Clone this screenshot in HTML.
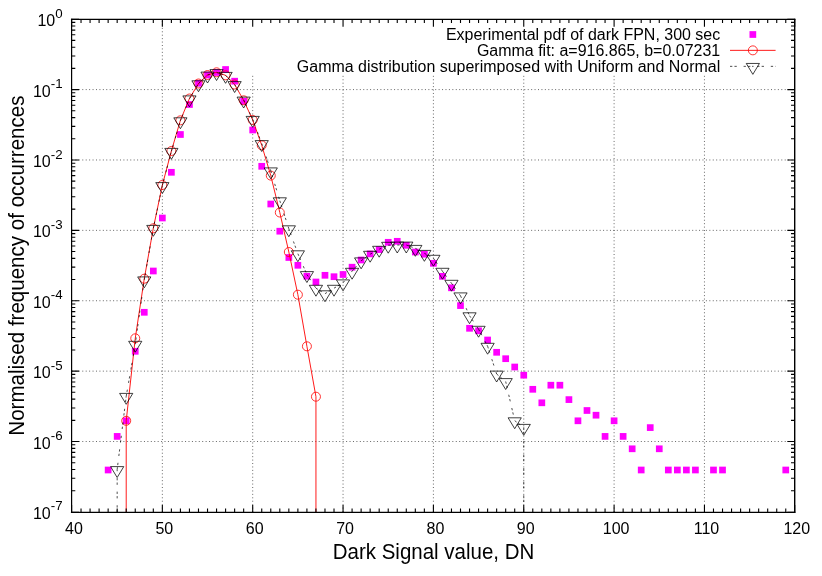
<!DOCTYPE html>
<html><head><meta charset="utf-8"><title>Dark signal FPN</title>
<style>html,body{margin:0;padding:0;background:#fff;overflow:hidden}svg{display:block;will-change:transform}text{font-family:"Liberation Sans",sans-serif;fill:#000}</style></head>
<body>
<svg width="822" height="576" viewBox="0 0 822 576">
<rect width="822" height="576" fill="#fff"/>
<path d="M162.35 512V19.35 M252.7 512V75.3 M343.05 512V75.3 M433.4 512V75.3 M523.75 512V75.3 M614.1 512V75.3 M704.45 512V75.3" stroke="#000" stroke-width="0.6" stroke-dasharray="1 2.4265" fill="none"/>
<path d="M72 89.59H794.7 M72 159.97H794.7 M72 230.36H794.7 M72 300.74H794.7 M72 371.13H794.7 M72 441.51H794.7" stroke="#000" stroke-width="0.6" stroke-dasharray="1 2.4265" fill="none"/>
<g fill="#f0f"><rect x="104.79" y="466.65" width="6.7" height="6.7"/><rect x="113.83" y="433.05" width="6.7" height="6.7"/><rect x="122.86" y="417.45" width="6.7" height="6.7"/><rect x="131.9" y="347.95" width="6.7" height="6.7"/><rect x="140.93" y="308.95" width="6.7" height="6.7"/><rect x="149.97" y="267.65" width="6.7" height="6.7"/><rect x="159" y="214.65" width="6.7" height="6.7"/><rect x="168.03" y="168.95" width="6.7" height="6.7"/><rect x="177.07" y="131.15" width="6.7" height="6.7"/><rect x="186.1" y="101.15" width="6.7" height="6.7"/><rect x="195.14" y="79.95" width="6.7" height="6.7"/><rect x="204.18" y="71.65" width="6.7" height="6.7"/><rect x="213.21" y="69.15" width="6.7" height="6.7"/><rect x="222.24" y="66.15" width="6.7" height="6.7"/><rect x="231.28" y="77.85" width="6.7" height="6.7"/><rect x="240.31" y="97.95" width="6.7" height="6.7"/><rect x="249.35" y="126.65" width="6.7" height="6.7"/><rect x="258.38" y="162.95" width="6.7" height="6.7"/><rect x="267.42" y="200.65" width="6.7" height="6.7"/><rect x="276.45" y="227.85" width="6.7" height="6.7"/><rect x="285.49" y="254.15" width="6.7" height="6.7"/><rect x="294.52" y="261.95" width="6.7" height="6.7"/><rect x="303.56" y="272.85" width="6.7" height="6.7"/><rect x="312.59" y="278.65" width="6.7" height="6.7"/><rect x="321.63" y="271.95" width="6.7" height="6.7"/><rect x="330.66" y="273.35" width="6.7" height="6.7"/><rect x="339.7" y="271.15" width="6.7" height="6.7"/><rect x="348.73" y="263.85" width="6.7" height="6.7"/><rect x="357.77" y="256.65" width="6.7" height="6.7"/><rect x="366.8" y="250.55" width="6.7" height="6.7"/><rect x="375.84" y="246.25" width="6.7" height="6.7"/><rect x="384.88" y="238.95" width="6.7" height="6.7"/><rect x="393.91" y="237.95" width="6.7" height="6.7"/><rect x="402.94" y="241.95" width="6.7" height="6.7"/><rect x="411.98" y="248.65" width="6.7" height="6.7"/><rect x="421.01" y="250.85" width="6.7" height="6.7"/><rect x="430.05" y="259.95" width="6.7" height="6.7"/><rect x="439.08" y="272.95" width="6.7" height="6.7"/><rect x="448.12" y="284.45" width="6.7" height="6.7"/><rect x="457.15" y="302.25" width="6.7" height="6.7"/><rect x="466.19" y="324.95" width="6.7" height="6.7"/><rect x="475.22" y="327.45" width="6.7" height="6.7"/><rect x="484.26" y="336.65" width="6.7" height="6.7"/><rect x="493.29" y="348.95" width="6.7" height="6.7"/><rect x="502.33" y="355.35" width="6.7" height="6.7"/><rect x="511.36" y="363.65" width="6.7" height="6.7"/><rect x="520.4" y="371.85" width="6.7" height="6.7"/><rect x="529.43" y="385.95" width="6.7" height="6.7"/><rect x="538.47" y="399.45" width="6.7" height="6.7"/><rect x="547.5" y="381.85" width="6.7" height="6.7"/><rect x="556.54" y="381.85" width="6.7" height="6.7"/><rect x="565.57" y="396.25" width="6.7" height="6.7"/><rect x="574.61" y="417.45" width="6.7" height="6.7"/><rect x="583.64" y="407.15" width="6.7" height="6.7"/><rect x="592.68" y="411.85" width="6.7" height="6.7"/><rect x="601.71" y="433.05" width="6.7" height="6.7"/><rect x="610.75" y="417.45" width="6.7" height="6.7"/><rect x="619.78" y="433.05" width="6.7" height="6.7"/><rect x="628.82" y="445.45" width="6.7" height="6.7"/><rect x="637.85" y="466.65" width="6.7" height="6.7"/><rect x="646.89" y="424.25" width="6.7" height="6.7"/><rect x="655.92" y="445.45" width="6.7" height="6.7"/><rect x="664.96" y="466.65" width="6.7" height="6.7"/><rect x="674" y="466.65" width="6.7" height="6.7"/><rect x="683.03" y="466.65" width="6.7" height="6.7"/><rect x="692.06" y="466.65" width="6.7" height="6.7"/><rect x="710.13" y="466.65" width="6.7" height="6.7"/><rect x="719.17" y="466.65" width="6.7" height="6.7"/><rect x="782.41" y="466.65" width="6.7" height="6.7"/></g>
<path d="M126.21 512.3L126.21 420.8L135.25 338.3L144.28 278.7L153.31 228.3L162.35 185L171.38 151L180.42 120.3L189.45 98.5L198.49 83.5L207.53 75L216.56 72.3L225.59 75.3L234.63 84.5L243.66 100.3L252.7 120L261.74 145.3L270.77 175.6L279.8 212.5L288.84 252L297.88 294.7L306.91 346.3L315.94 396.7L315.94 512.3" stroke="#f00" stroke-width="0.9" fill="none" stroke-linejoin="round"/>
<g stroke="#f00" stroke-width="0.8" fill="none"><circle cx="126.21" cy="420.8" r="4.5"/><circle cx="135.25" cy="338.3" r="4.5"/><circle cx="144.28" cy="278.7" r="4.5"/><circle cx="153.31" cy="228.3" r="4.5"/><circle cx="162.35" cy="185" r="4.5"/><circle cx="171.38" cy="151" r="4.5"/><circle cx="180.42" cy="120.3" r="4.5"/><circle cx="189.45" cy="98.5" r="4.5"/><circle cx="198.49" cy="83.5" r="4.5"/><circle cx="207.53" cy="75" r="4.5"/><circle cx="216.56" cy="72.3" r="4.5"/><circle cx="225.59" cy="75.3" r="4.5"/><circle cx="234.63" cy="84.5" r="4.5"/><circle cx="243.66" cy="100.3" r="4.5"/><circle cx="252.7" cy="120" r="4.5"/><circle cx="261.74" cy="145.3" r="4.5"/><circle cx="270.77" cy="175.6" r="4.5"/><circle cx="279.8" cy="212.5" r="4.5"/><circle cx="288.84" cy="252" r="4.5"/><circle cx="297.88" cy="294.7" r="4.5"/><circle cx="306.91" cy="346.3" r="4.5"/><circle cx="315.94" cy="396.7" r="4.5"/></g>
<path d="M117.17 512L117.17 469.5M117.17 469.5L126.21 396.3M126.21 396.3L135.25 344.2M135.25 344.2L144.28 279.8M144.28 279.8L153.31 228.3M153.31 228.3L162.35 185.5M162.35 185.5L171.38 151.3M171.38 151.3L180.42 120.7M180.42 120.7L189.45 98.8M189.45 98.8L198.49 83.7M198.49 83.7L207.53 75M207.53 75L216.56 72.5M216.56 72.5L225.59 75.3M225.59 75.3L234.63 84.5M234.63 84.5L243.66 100M243.66 100L252.7 119.3M252.7 119.3L261.74 143.5M261.74 143.5L270.77 170.8M270.77 170.8L279.8 200.7M279.8 200.7L288.84 228.7M288.84 228.7L297.88 253.7M297.88 253.7L306.91 274.5M306.91 274.5L315.94 288.2M315.94 288.2L324.98 293.7M324.98 293.7L334.01 288.2M334.01 288.2L343.05 282.8M343.05 282.8L352.08 271.2M352.08 271.2L361.12 260.8M361.12 260.8L370.15 254.2M370.15 254.2L379.19 249.2M379.19 249.2L388.23 245.2M388.23 245.2L397.26 245M397.26 245L406.29 245M406.29 245L415.33 248.3M415.33 248.3L424.36 253.3M424.36 253.3L433.4 258.2M433.4 258.2L442.44 271.2M442.44 271.2L451.47 283.2M451.47 283.2L460.5 295.8M460.5 295.8L469.54 315.7M469.54 315.7L478.57 329.2M478.57 329.2L487.61 346.2M487.61 346.2L496.64 374M496.64 374L505.68 381.5M505.68 381.5L514.71 420.7M514.71 420.7L523.75 427.3M523.75 427.3L523.75 512" stroke="#000" stroke-width="0.7" fill="none" stroke-dasharray="2.3 2.15 2.3 6.85"/>
<path d="M110.58 466.6H123.77L117.17 477.5ZM119.61 393.4H132.81L126.21 404.3ZM128.65 341.3H141.84L135.25 352.2ZM137.68 276.9H150.88L144.28 287.8ZM146.72 225.4H159.91L153.31 236.3ZM155.75 182.6H168.95L162.35 193.5ZM164.78 148.4H177.98L171.38 159.3ZM173.82 117.8H187.02L180.42 128.7ZM182.85 95.9H196.05L189.45 106.8ZM191.89 80.8H205.09L198.49 91.7ZM200.93 72.1H214.12L207.53 83ZM209.96 69.6H223.16L216.56 80.5ZM218.99 72.4H232.19L225.59 83.3ZM228.03 81.6H241.23L234.63 92.5ZM237.06 97.1H250.26L243.66 108ZM246.1 116.4H259.3L252.7 127.3ZM255.14 140.6H268.34L261.74 151.5ZM264.17 167.9H277.37L270.77 178.8ZM273.2 197.8H286.4L279.8 208.7ZM282.24 225.8H295.44L288.84 236.7ZM291.27 250.8H304.48L297.88 261.7ZM300.31 271.6H313.51L306.91 282.5ZM309.34 285.3H322.55L315.94 296.2ZM318.38 290.8H331.58L324.98 301.7ZM327.41 285.3H340.62L334.01 296.2ZM336.45 279.9H349.65L343.05 290.8ZM345.48 268.3H358.69L352.08 279.2ZM354.52 257.9H367.72L361.12 268.8ZM363.55 251.3H376.75L370.15 262.2ZM372.59 246.3H385.79L379.19 257.2ZM381.62 242.3H394.83L388.23 253.2ZM390.66 242.1H403.86L397.26 253ZM399.69 242.1H412.89L406.29 253ZM408.73 245.4H421.93L415.33 256.3ZM417.76 250.4H430.96L424.36 261.3ZM426.8 255.3H440L433.4 266.2ZM435.83 268.3H449.04L442.44 279.2ZM444.87 280.3H458.07L451.47 291.2ZM453.9 292.9H467.11L460.5 303.8ZM462.94 312.8H476.14L469.54 323.7ZM471.97 326.3H485.17L478.57 337.2ZM481.01 343.3H494.21L487.61 354.2ZM490.04 371.1H503.25L496.64 382ZM499.08 378.6H512.28L505.68 389.5ZM508.11 417.8H521.31L514.71 428.7ZM517.15 424.4H530.35L523.75 435.3Z" stroke="#000" stroke-width="0.75" fill="none"/>
<text x="720.2" y="39.7" font-size="15.97" text-anchor="end">Experimental pdf of dark FPN, 300 sec</text>
<text x="720.2" y="55.55" font-size="15.97" text-anchor="end">Gamma fit: a=916.865, b=0.07231</text>
<text x="720.2" y="71.75" font-size="15.97" text-anchor="end">Gamma distribution superimposed with Uniform and Normal</text>
<rect x="749.5" y="31.15" width="6.7" height="6.7" fill="#f0f"/>
<path d="M730.0 50.35H775.6" stroke="#f00" stroke-width="0.9"/><circle cx="752.85" cy="50.35" r="4.5" stroke="#f00" stroke-width="0.8" fill="none"/>
<path d="M730.0 66.35H775.6" stroke="#000" stroke-width="0.7" stroke-dasharray="2.3 2.15 2.3 6.85"/><path d="M746.25 63.45H759.45L752.85 74.35Z" stroke="#000" stroke-width="0.75" fill="none"/><rect x="752.35" y="65.85" width="1" height="1"/>
<path d="M71.6 512.3v-7.4M71.6 19.35v7.4 M81.03 512.3v-3.7M81.03 19.35v3.7 M90.07 512.3v-3.7M90.07 19.35v3.7 M99.1 512.3v-3.7M99.1 19.35v3.7 M108.14 512.3v-3.7M108.14 19.35v3.7 M117.17 512.3v-3.7M117.17 19.35v3.7 M126.21 512.3v-3.7M126.21 19.35v3.7 M135.25 512.3v-3.7M135.25 19.35v3.7 M144.28 512.3v-3.7M144.28 19.35v3.7 M153.31 512.3v-3.7M153.31 19.35v3.7 M162.35 512.3v-7.4M162.35 19.35v7.4 M171.38 512.3v-3.7M171.38 19.35v3.7 M180.42 512.3v-3.7M180.42 19.35v3.7 M189.45 512.3v-3.7M189.45 19.35v3.7 M198.49 512.3v-3.7M198.49 19.35v3.7 M207.53 512.3v-3.7M207.53 19.35v3.7 M216.56 512.3v-3.7M216.56 19.35v3.7 M225.59 512.3v-3.7M225.59 19.35v3.7 M234.63 512.3v-3.7M234.63 19.35v3.7 M243.66 512.3v-3.7M243.66 19.35v3.7 M252.7 512.3v-7.4M252.7 19.35v7.4 M261.74 512.3v-3.7M261.74 19.35v3.7 M270.77 512.3v-3.7M270.77 19.35v3.7 M279.8 512.3v-3.7M279.8 19.35v3.7 M288.84 512.3v-3.7M288.84 19.35v3.7 M297.88 512.3v-3.7M297.88 19.35v3.7 M306.91 512.3v-3.7M306.91 19.35v3.7 M315.94 512.3v-3.7M315.94 19.35v3.7 M324.98 512.3v-3.7M324.98 19.35v3.7 M334.01 512.3v-3.7M334.01 19.35v3.7 M343.05 512.3v-7.4M343.05 19.35v7.4 M352.08 512.3v-3.7M352.08 19.35v3.7 M361.12 512.3v-3.7M361.12 19.35v3.7 M370.15 512.3v-3.7M370.15 19.35v3.7 M379.19 512.3v-3.7M379.19 19.35v3.7 M388.23 512.3v-3.7M388.23 19.35v3.7 M397.26 512.3v-3.7M397.26 19.35v3.7 M406.29 512.3v-3.7M406.29 19.35v3.7 M415.33 512.3v-3.7M415.33 19.35v3.7 M424.36 512.3v-3.7M424.36 19.35v3.7 M433.4 512.3v-7.4M433.4 19.35v7.4 M442.44 512.3v-3.7M442.44 19.35v3.7 M451.47 512.3v-3.7M451.47 19.35v3.7 M460.5 512.3v-3.7M460.5 19.35v3.7 M469.54 512.3v-3.7M469.54 19.35v3.7 M478.57 512.3v-3.7M478.57 19.35v3.7 M487.61 512.3v-3.7M487.61 19.35v3.7 M496.64 512.3v-3.7M496.64 19.35v3.7 M505.68 512.3v-3.7M505.68 19.35v3.7 M514.71 512.3v-3.7M514.71 19.35v3.7 M523.75 512.3v-7.4M523.75 19.35v7.4 M532.78 512.3v-3.7M532.78 19.35v3.7 M541.82 512.3v-3.7M541.82 19.35v3.7 M550.85 512.3v-3.7M550.85 19.35v3.7 M559.89 512.3v-3.7M559.89 19.35v3.7 M568.92 512.3v-3.7M568.92 19.35v3.7 M577.96 512.3v-3.7M577.96 19.35v3.7 M587 512.3v-3.7M587 19.35v3.7 M596.03 512.3v-3.7M596.03 19.35v3.7 M605.06 512.3v-3.7M605.06 19.35v3.7 M614.1 512.3v-7.4M614.1 19.35v7.4 M623.13 512.3v-3.7M623.13 19.35v3.7 M632.17 512.3v-3.7M632.17 19.35v3.7 M641.2 512.3v-3.7M641.2 19.35v3.7 M650.24 512.3v-3.7M650.24 19.35v3.7 M659.27 512.3v-3.7M659.27 19.35v3.7 M668.31 512.3v-3.7M668.31 19.35v3.7 M677.35 512.3v-3.7M677.35 19.35v3.7 M686.38 512.3v-3.7M686.38 19.35v3.7 M695.41 512.3v-3.7M695.41 19.35v3.7 M704.45 512.3v-7.4M704.45 19.35v7.4 M713.48 512.3v-3.7M713.48 19.35v3.7 M722.52 512.3v-3.7M722.52 19.35v3.7 M731.55 512.3v-3.7M731.55 19.35v3.7 M740.59 512.3v-3.7M740.59 19.35v3.7 M749.62 512.3v-3.7M749.62 19.35v3.7 M758.66 512.3v-3.7M758.66 19.35v3.7 M767.69 512.3v-3.7M767.69 19.35v3.7 M776.73 512.3v-3.7M776.73 19.35v3.7 M785.76 512.3v-3.7M785.76 19.35v3.7 M794.7 512.3v-7.4M794.7 19.35v7.4 M71.6 19.35h7.4M794.7 19.35h-7.4 M71.6 68.4h3.7M794.7 68.4h-3.7 M71.6 56h3.7M794.7 56h-3.7 M71.6 47.21h3.7M794.7 47.21h-3.7 M71.6 40.39h3.7M794.7 40.39h-3.7 M71.6 34.81h3.7M794.7 34.81h-3.7 M71.6 30.1h3.7M794.7 30.1h-3.7 M71.6 26.02h3.7M794.7 26.02h-3.7 M71.6 22.42h3.7M794.7 22.42h-3.7 M71.6 89.59h7.4M794.7 89.59h-7.4 M71.6 138.78h3.7M794.7 138.78h-3.7 M71.6 126.39h3.7M794.7 126.39h-3.7 M71.6 117.6h3.7M794.7 117.6h-3.7 M71.6 110.77h3.7M794.7 110.77h-3.7 M71.6 105.2h3.7M794.7 105.2h-3.7 M71.6 100.49h3.7M794.7 100.49h-3.7 M71.6 96.41h3.7M794.7 96.41h-3.7 M71.6 92.81h3.7M794.7 92.81h-3.7 M71.6 159.97h7.4M794.7 159.97h-7.4 M71.6 209.17h3.7M794.7 209.17h-3.7 M71.6 196.77h3.7M794.7 196.77h-3.7 M71.6 187.98h3.7M794.7 187.98h-3.7 M71.6 181.16h3.7M794.7 181.16h-3.7 M71.6 175.59h3.7M794.7 175.59h-3.7 M71.6 170.87h3.7M794.7 170.87h-3.7 M71.6 166.79h3.7M794.7 166.79h-3.7 M71.6 163.19h3.7M794.7 163.19h-3.7 M71.6 230.36h7.4M794.7 230.36h-7.4 M71.6 279.55h3.7M794.7 279.55h-3.7 M71.6 267.16h3.7M794.7 267.16h-3.7 M71.6 258.37h3.7M794.7 258.37h-3.7 M71.6 251.55h3.7M794.7 251.55h-3.7 M71.6 245.97h3.7M794.7 245.97h-3.7 M71.6 241.26h3.7M794.7 241.26h-3.7 M71.6 237.18h3.7M794.7 237.18h-3.7 M71.6 233.58h3.7M794.7 233.58h-3.7 M71.6 300.74h7.4M794.7 300.74h-7.4 M71.6 349.94h3.7M794.7 349.94h-3.7 M71.6 337.55h3.7M794.7 337.55h-3.7 M71.6 328.75h3.7M794.7 328.75h-3.7 M71.6 321.93h3.7M794.7 321.93h-3.7 M71.6 316.36h3.7M794.7 316.36h-3.7 M71.6 311.65h3.7M794.7 311.65h-3.7 M71.6 307.56h3.7M794.7 307.56h-3.7 M71.6 303.96h3.7M794.7 303.96h-3.7 M71.6 371.13h7.4M794.7 371.13h-7.4 M71.6 420.33h3.7M794.7 420.33h-3.7 M71.6 407.93h3.7M794.7 407.93h-3.7 M71.6 399.14h3.7M794.7 399.14h-3.7 M71.6 392.32h3.7M794.7 392.32h-3.7 M71.6 386.74h3.7M794.7 386.74h-3.7 M71.6 382.03h3.7M794.7 382.03h-3.7 M71.6 377.95h3.7M794.7 377.95h-3.7 M71.6 374.35h3.7M794.7 374.35h-3.7 M71.6 441.51h7.4M794.7 441.51h-7.4 M71.6 490.71h3.7M794.7 490.71h-3.7 M71.6 478.32h3.7M794.7 478.32h-3.7 M71.6 469.52h3.7M794.7 469.52h-3.7 M71.6 462.7h3.7M794.7 462.7h-3.7 M71.6 457.13h3.7M794.7 457.13h-3.7 M71.6 452.42h3.7M794.7 452.42h-3.7 M71.6 448.34h3.7M794.7 448.34h-3.7 M71.6 444.73h3.7M794.7 444.73h-3.7 M71.6 512.3h7.4M794.7 512.3h-7.4" stroke="#000" stroke-width="1.1" fill="none"/>
<g stroke="#000" stroke-linecap="square" fill="none"><path d="M71.6 19.35H794.7" stroke-width="1.3"/><path d="M71.6 512.3H794.7" stroke-width="1.35"/><path d="M71.6 19.35V512.3" stroke-width="1.2"/><path d="M794.7 19.35V512.3" stroke-width="1.4"/></g>
<text x="74" y="533.7" font-size="16" text-anchor="middle">40</text>
<text x="164.35" y="533.7" font-size="16" text-anchor="middle">50</text>
<text x="254.7" y="533.7" font-size="16" text-anchor="middle">60</text>
<text x="345.05" y="533.7" font-size="16" text-anchor="middle">70</text>
<text x="435.4" y="533.7" font-size="16" text-anchor="middle">80</text>
<text x="525.75" y="533.7" font-size="16" text-anchor="middle">90</text>
<text x="616.1" y="533.7" font-size="16" text-anchor="middle">100</text>
<text x="706.45" y="533.7" font-size="16" text-anchor="middle">110</text>
<text x="796.8" y="533.7" font-size="16" text-anchor="middle">120</text>
<text x="62.6" y="26.25" font-size="16" text-anchor="end">10<tspan font-size="13.3" dy="-8.5">0</tspan></text>
<text x="62.6" y="96.64" font-size="16" text-anchor="end">10<tspan font-size="13.3" dy="-8.5">-1</tspan></text>
<text x="62.6" y="167.02" font-size="16" text-anchor="end">10<tspan font-size="13.3" dy="-8.5">-2</tspan></text>
<text x="62.6" y="237.41" font-size="16" text-anchor="end">10<tspan font-size="13.3" dy="-8.5">-3</tspan></text>
<text x="62.6" y="307.79" font-size="16" text-anchor="end">10<tspan font-size="13.3" dy="-8.5">-4</tspan></text>
<text x="62.6" y="378.18" font-size="16" text-anchor="end">10<tspan font-size="13.3" dy="-8.5">-5</tspan></text>
<text x="62.6" y="448.56" font-size="16" text-anchor="end">10<tspan font-size="13.3" dy="-8.5">-6</tspan></text>
<text x="62.6" y="518.95" font-size="16" text-anchor="end">10<tspan font-size="13.3" dy="-8.5">-7</tspan></text>
<text transform="translate(433.5 558.8) scale(1,1.065)" font-size="20.5" text-anchor="middle">Dark Signal value, DN</text>
<text transform="translate(23.7 265.6) rotate(-90) scale(1,1.065)" font-size="20.55" text-anchor="middle">Normalised frequency of occurrences</text>
</svg></body></html>
